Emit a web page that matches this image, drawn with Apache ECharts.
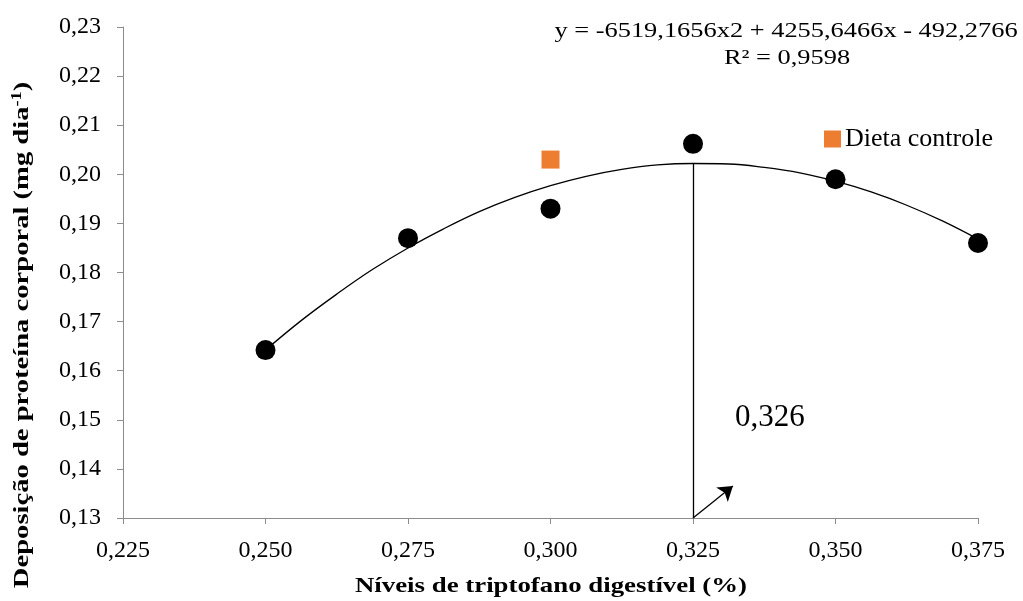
<!DOCTYPE html>
<html>
<head>
<meta charset="utf-8">
<script src="https://cdn.jsdelivr.net/npm/echarts@6/dist/echarts.min.js"></script>
<style>
  html, body { margin: 0; padding: 0; background: #fff; }
  #chart { width: 1023px; height: 601px; }
</style>
</head>
<body>
<div id="chart"></div>
<script>
// níveis de triptofano e deposição observada
var niveis = [0.250, 0.275, 0.300, 0.325, 0.350, 0.375];
var deposicao = [0.1642, 0.187, 0.193, 0.2062, 0.199, 0.186];
// dieta controle
var controle = [[0.300, 0.203]];
var curvaX = [0.250, 0.25625, 0.2625, 0.26875, 0.275, 0.28125, 0.2875, 0.29375, 0.300, 0.30625, 0.3125,
  0.31875, 0.325, 0.33125, 0.3375, 0.34375, 0.350, 0.35625, 0.3625, 0.36875, 0.375];
var curvaY = [0.1642, 0.1702, 0.1756, 0.1806, 0.1850, 0.1889, 0.1924, 0.1953, 0.1977, 0.1996, 0.2010,
  0.2019, 0.2022, 0.2021, 0.2014, 0.2003, 0.1986, 0.1964, 0.1937, 0.1905, 0.1868];
var otimo = 0.325;
var otimoY = 0.2023;

var serif = "'Liberation Serif', 'Times New Roman', serif";
var fmt = function (v, d) { return v.toFixed(d).replace('.', ','); };

var chart = echarts.init(document.getElementById('chart'));
var option = {
  backgroundColor: '#fff',
  animation: false,
  grid: { left: 123, right: 45, top: 27, bottom: 83 },
  legend: {
    data: ['Dieta controle'],
    left: 819, top: 121,
    icon: 'rect', itemWidth: 17, itemHeight: 17, itemGap: 4,
    textStyle: { fontFamily: serif, fontSize: 26, color: '#000', padding: [0, 0, 0, -1] }
  },
  xAxis: {
    type: 'value', min: 0.225, max: 0.375, interval: 0.025,
    axisLine: { lineStyle: { color: '#8c8c8c' } },
    axisTick: { show: true, length: 6, lineStyle: { color: '#8c8c8c' } },
    axisLabel: { fontFamily: serif, fontSize: 24, color: '#000', margin: 21,
      formatter: function (v) { return fmt(v, 3); } },
    splitLine: { show: false }
  },
  yAxis: {
    type: 'value', min: 0.13, max: 0.23, interval: 0.01,
    axisLine: { show: true, lineStyle: { color: '#8c8c8c' } },
    axisTick: { show: true, length: 6, lineStyle: { color: '#8c8c8c' } },
    axisLabel: { fontFamily: serif, fontSize: 24, color: '#000', margin: 22,
      formatter: function (v) { return fmt(v, 2); } },
    splitLine: { show: false }
  },
  graphic: [
    {
      type: 'text', x: 786, y: 31, scaleX: 1.2,
      style: {
        text: 'y = -6519,1656x2 + 4255,6466x - 492,2766',
        font: '22px ' + serif, fill: '#000', align: 'center', verticalAlign: 'middle'
      }
    },
    {
      type: 'text', x: 787, y: 58, scaleX: 1.2,
      style: {
        text: 'R² = 0,9598',
        font: '22px ' + serif, fill: '#000', align: 'center', verticalAlign: 'middle'
      }
    },
    {
      type: 'text', x: 551, y: 586, scaleX: 1.22,
      style: {
        text: 'Níveis de triptofano digestível (%)',
        font: 'bold 22px ' + serif, fill: '#000', align: 'center', verticalAlign: 'middle'
      }
    },
    {
      type: 'text', x: 22, y: 335, rotation: Math.PI / 2, scaleX: 1.3,
      style: {
        text: '{t|Deposição de proteína corporal (mg dia}{s|-1}{t|)}',
        align: 'center', verticalAlign: 'middle',
        rich: {
          t: { fontFamily: serif, fontSize: 22, fontWeight: 'bold', fill: '#000', lineHeight: 24 },
          s: { fontFamily: serif, fontSize: 14, fontWeight: 'bold', fill: '#000', lineHeight: 24, verticalAlign: 'top' }
        }
      }
    }
  ],
  series: [
    {
      name: 'Tendência', type: 'line', smooth: 0.4, symbol: 'none', z: 1,
      lineStyle: { color: '#000', width: 1.3 },
      data: curvaX.map(function (x, i) { return [x, curvaY[i]]; }),
      markLine: {
        silent: true, animation: false,
        label: { show: false },
        lineStyle: { color: '#000', width: 1.3, type: 'solid' },
        data: [
          [{ coord: [otimo, otimoY], symbol: 'none' }, { coord: [otimo, 0.13], symbol: 'none' }],
          [{ coord: [0.325, 0.13], symbol: 'none' }, { coord: [0.332, 0.1365], symbol: 'arrow', symbolSize: 14 }]
        ]
      },
      markPoint: {
        silent: true, symbolSize: 0,
        label: { show: true, fontFamily: serif, fontSize: 31, color: '#000', formatter: '0,326' },
        data: [{ coord: [0.3385, 0.1503] }]
      }
    },
    {
      name: 'Tratamentos', type: 'scatter', symbol: 'circle', symbolSize: 20, clip: false, z: 3,
      itemStyle: { color: '#000', opacity: 1 },
      data: niveis.map(function (x, i) { return [x, deposicao[i]]; })
    },
    {
      name: 'Dieta controle', type: 'scatter', symbol: 'rect', symbolSize: 18, clip: false, z: 3,
      itemStyle: { color: '#ed7d31', opacity: 1 },
      data: controle
    }
  ]
};
chart.setOption(option);
</script>
</body>
</html>
